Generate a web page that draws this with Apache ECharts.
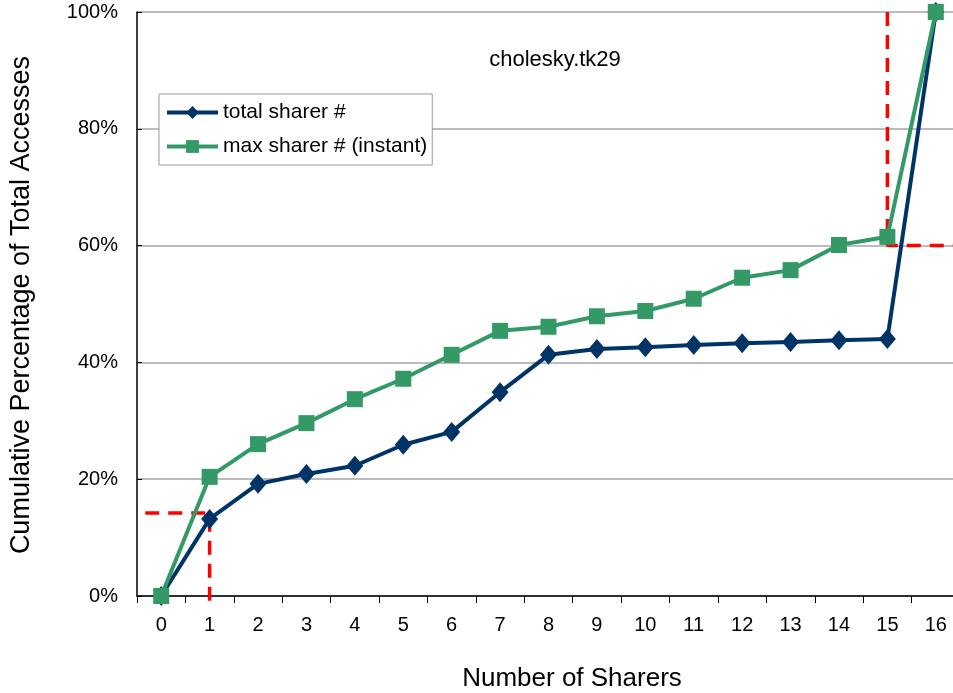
<!DOCTYPE html>
<html>
<head>
<meta charset="utf-8">
<script src="https://cdn.jsdelivr.net/npm/echarts@6/dist/echarts.min.js"></script>
<style>
  html, body { margin: 0; padding: 0; background: #fff; }
  #chart { width: 953px; height: 693px; }
</style>
</head>
<body>
<div id="chart"></div>
<script>
// Number of sharers on the category axis
var sharers = ['0','1','2','3','4','5','6','7','8','9','10','11','12','13','14','15','16'];

// Cumulative percentage of total accesses (%)
var totalSharer = [0, 13.2, 19.2, 20.9, 22.3, 25.9, 28.1, 34.9, 41.3, 42.3, 42.6, 43.0, 43.3, 43.5, 43.8, 44.0, 100];
var maxSharer   = [0, 20.4, 26.0, 29.6, 33.7, 37.2, 41.3, 45.4, 46.1, 47.9, 48.8, 50.9, 54.5, 55.8, 60.1, 61.5, 100];

// Red dashed guide lines (x in category units, y in %)
var guideLow  = [[-0.33, 14.2], [1, 14.2], [1, -2]];
var guideHigh = [[15, 100], [15, 60], [16.6, 60]];

var yTicks = { min: 0, max: 100, interval: 20 };

var FONT = 'Liberation Sans, Arial, sans-serif';
var chart = echarts.init(document.getElementById('chart'), null, { renderer: 'canvas' });

function guideSeries(data) {
  return {
    type: 'line',
    xAxisIndex: 1,
    yAxisIndex: 0,
    data: data,
    symbol: 'none',
    clip: false,
    silent: true,
    z: 1,
    lineStyle: { color: '#ff0000', width: 3.5, type: [14, 9] }
  };
}

chart.setOption({
  animation: false,
  backgroundColor: '#ffffff',
  textStyle: { fontFamily: FONT },
  grid: { left: 137, top: 12, width: 823, height: 584, outerBoundsMode: 'none', containLabel: false },
  title: {
    text: 'cholesky.tk29',
    left: 550, top: 44, textAlign: 'center',
    textStyle: { fontFamily: FONT, fontSize: 22, fontWeight: 'normal', color: '#000' }
  },
  legend: {
    orient: 'vertical',
    left: 159, top: 94,
    padding: [8, 5, 8, 6],
    itemGap: 13,
    itemWidth: 51,
    itemHeight: 16,
    borderColor: '#999',
    borderWidth: 1,
    backgroundColor: '#fff',
    lineStyle: { width: 4 },
    textStyle: { fontFamily: FONT, fontSize: 21, color: '#000' },
    data: ['total sharer #', 'max sharer # (instant)']
  },
  graphic: [
    {
      type: 'text', x: 22, y: 305, rotation: Math.PI / 2,
      style: {
        text: 'Cumulative Percentage of Total Accesses',
        font: '27px ' + FONT, fill: '#000',
        align: 'center', verticalAlign: 'middle'
      }
    },
    {
      type: 'text', x: 572, y: 679,
      style: {
        text: 'Number of Sharers',
        font: '26px ' + FONT, fill: '#000',
        align: 'center', verticalAlign: 'middle'
      }
    }
  ],
  xAxis: [
    {
      type: 'category',
      data: sharers,
      boundaryGap: true,
      axisLine: { lineStyle: { color: '#000', width: 1.5 } },
      axisTick: { show: true, length: 7, lineStyle: { color: '#000' } },
      axisLabel: { fontFamily: FONT, fontSize: 20, color: '#000', margin: 19 },
      splitLine: { show: false }
    },
    {
      type: 'value',
      min: -0.5, max: 16.5,
      show: false
    }
  ],
  yAxis: {
    type: 'value',
    min: yTicks.min, max: yTicks.max, interval: yTicks.interval,
    axisLine: { show: true, onZero: false, lineStyle: { color: '#000', width: 1.5 } },
    axisTick: { show: true, inside: true, length: 5, lineStyle: { color: '#000' } },
    axisLabel: { fontFamily: FONT, fontSize: 20, color: '#000', margin: 19, formatter: '{value}%' },
    splitLine: { show: true, lineStyle: { color: '#a6a6a6', width: 1.5 } }
  },
  series: [
    guideSeries(guideLow),
    guideSeries(guideHigh),
    {
      name: 'max sharer # (instant)',
      type: 'line',
      data: maxSharer,
      symbol: 'rect',
      symbolSize: 16,
      z: 3,
      color: '#339966',
      lineStyle: { color: '#339966', width: 4 },
      itemStyle: { color: '#339966' }
    },
    {
      name: 'total sharer #',
      type: 'line',
      data: totalSharer,
      symbol: 'diamond',
      symbolSize: [17, 20],
      z: 2,
      color: '#003366',
      lineStyle: { color: '#003366', width: 4 },
      itemStyle: { color: '#003366' }
    }
  ]
});
</script>
</body>
</html>
